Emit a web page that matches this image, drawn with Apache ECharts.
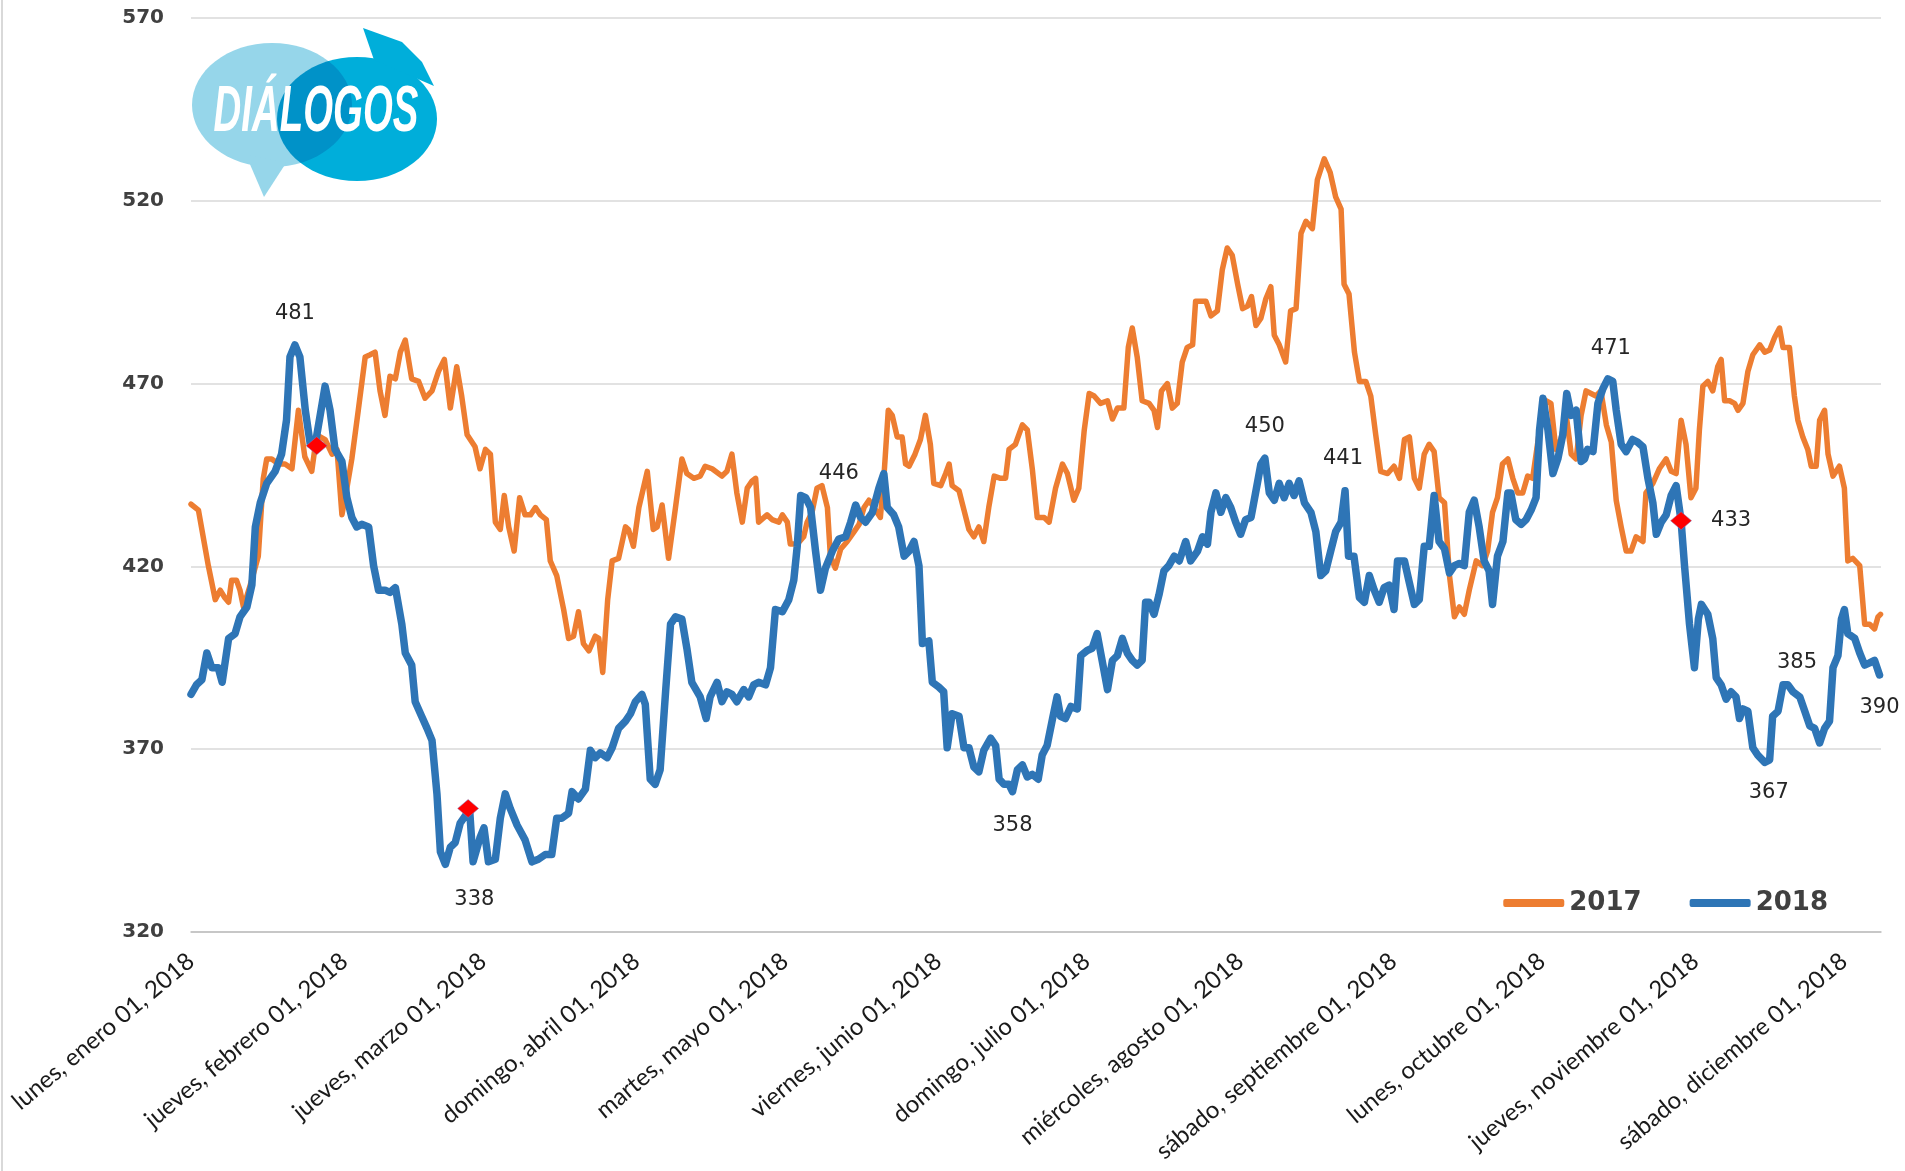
<!DOCTYPE html>
<html><head><meta charset="utf-8">
<script src="https://cdn.jsdelivr.net/npm/echarts@6/dist/echarts.min.js"></script>
<style>html,body{margin:0;padding:0;background:#fff}#c{width:1905px;height:1171px}</style>
</head><body><div id="c"></div>
<script>
// ---- tick labels (month starts, day index from 1 Jan 2018) ----
const tickDays = [0,31,59,90,120,151,181,212,243,273,304,334];
const tickLabels = ['lunes, enero 01, 2018','jueves, febrero 01, 2018','jueves, marzo 01, 2018','domingo, abril 01, 2018','martes, mayo 01, 2018','viernes, junio 01, 2018','domingo, julio 01, 2018','miércoles, agosto 01, 2018','sábado, septiembre 01, 2018','lunes, octubre 01, 2018','jueves, noviembre 01, 2018','sábado, diciembre 01, 2018'];
const yTicks = [320,370,420,470,520,570];

// ---- series 2017 (day index, value) ----
const days2017 = [0,1.5,3.5,4.9,5.9,6.8,7.6,8.2,9.2,9.9,10.6,12,13.6,14.6,15.3,16.3,17.7,19,20.4,21.7,23,24.4,25.4,27.1,28.5,29.5,30.5,31.5,32.5,33.8,35.2,36.2,37.2,38.2,39.2,40.2,41.3,42.3,43.3,44.6,46,47.3,48.7,50,51.2,52.4,53.7,54.7,55.8,57.4,58.4,59.5,60.5,61.5,62.5,63.3,64.2,65.3,66.4,67.5,68.6,69.6,70.6,71.8,72.6,73.9,75.3,76.3,77.3,78.3,79.3,80.4,81.7,82.4,83.2,84.2,85.1,86.4,87.8,88.4,89.4,90.5,92.2,93.4,94.2,95.2,96.5,97.9,99.2,100.2,101.6,102.9,103.9,105.3,107.3,108.3,109.3,110.3,111.4,112.4,113.4,114.1,114.7,116.4,117.4,118.8,119.5,120.5,121.1,122.5,123.8,124.5,125.5,126.5,127.5,128.6,129.2,130.2,131.3,132.6,134,135,136,137,138,139.3,140,140.9,141.7,142.7,143.7,144.4,145.1,146.3,147.4,148.4,149.4,150.1,151.5,152.5,153.2,153.8,155.2,156.2,157.2,158.2,159.2,160.2,161.2,162.3,163.6,164.6,165.3,166.6,168,169,170,171,172.4,173.4,174.7,176.1,177.1,178.4,179.4,180.5,181.5,182.5,183.8,185.2,186.2,187.2,188.5,189.4,190.2,191.2,192.2,193.6,194.6,195.3,196.1,197.3,198.3,199.3,200.3,201.3,202.4,203,204,205.1,206.1,207.4,208.4,209.4,210.4,211.5,212.5,213.5,214.3,215.2,216.2,217.2,218.2,218.9,219.9,221.2,222.2,223.3,224.3,225.3,226.6,227.6,229,230.2,231.3,232.4,233,234,235.1,236.1,237.4,238.4,239.4,240.4,241.8,243.1,244.2,245.2,246.2,247.2,248.2,249.2,250.2,251.2,252.2,253.3,254.3,255.3,256.3,257.3,258.3,259.7,261,262,263,264,265,266.1,267.1,268.1,269.1,270.1,271.1,272.5,273.8,274.8,275.8,276.8,277.9,278.9,279.9,280.9,281.9,282.9,283.9,284.9,286,287,288,289,290,291,292,293.4,294,295.4,296.7,298.1,299.1,300.1,301.1,302.1,303.1,304.1,304.8,305.5,306.5,307.5,308.5,309.2,309.9,310.9,311.9,312.6,313.6,314.6,315.6,317,318,319,320,321,321.7,323,324,324.7,325.7,326.7,327.4,328.4,329.1,330.1,330.8,331.8,333.1,334.1,334.8,335.8,337.2,338.2,339.2,340.2,340.9,341.4];
const vals2017 = [437,435.4,420.2,410.9,413.5,411.5,410.2,416.2,416.2,413.5,408.9,415,422.8,444,449.4,449.4,448,448,446.7,462.7,450,446,456,454.7,450.7,452,434.1,441.4,449.4,462.7,477.3,477.9,478.6,468,461.3,472,471.3,478.6,481.9,471.3,470.6,466,468,473.3,476.6,463.3,474.6,466.6,456,452.7,446.7,452,450.7,432.1,430.1,439.4,430.8,424.2,438.8,434.1,434.1,436.1,434.1,432.8,421.5,417.5,408.2,400.3,400.9,407.6,398.9,396.9,400.9,400.3,391,410.9,421.5,422.2,430.8,430.1,425.5,436.1,446,430.1,430.8,436.8,422.2,436.1,449.4,445.4,444.1,444.7,447.4,446.7,444.7,446,450.7,440.1,432.1,441.4,443.4,444.1,432.1,434.1,432.8,432.1,434.1,432.1,426.1,426.1,428.1,432.1,434.8,441.4,442.1,436.1,422.8,419.5,424.8,426.8,429.5,431.5,436.1,438.1,436.1,433.4,444.1,462.7,461.3,455.4,455.4,448,447.4,450.7,454.7,461.3,453.4,442.7,442.1,445.4,448,442.1,440.7,435.4,430.1,428.1,430.8,426.8,436.1,444.7,444.1,444.1,452,453.4,458.7,457.3,446.7,433.4,433.4,432.1,441.4,448,445.4,438.1,441.4,457.3,467.3,466.6,464.6,465.3,460.3,463.3,463.3,479.9,485.2,477.3,465.3,464.6,462.7,458,468,470,463.3,464.6,475.9,479.9,480.6,492.5,492.5,492.5,488.5,489.9,501.2,507.1,505.1,497.2,490.5,491.2,493.8,485.9,487.9,493.2,496.5,483.2,480.6,475.9,489.9,490.5,511.1,514.4,512.4,525.7,531.5,527.7,521.1,517.7,497.2,494.5,478.6,470.6,470.6,466.6,456,446,445.4,447.4,444.1,454.7,455.4,444.1,441.4,450.7,453.4,451.4,438.8,437.4,417.5,406.2,408.9,406.9,413.5,421.5,420.2,424.2,434.8,438.8,448,449.4,444.1,440.1,440.1,444.7,444.1,457.3,465.3,464.6,452,454.7,461.3,450.7,449.4,461.3,468,467.3,466.6,468,458.7,454,438,430.8,424.2,424.2,428.1,426.8,440.1,442.7,446.7,449.4,446,445.4,460,453.4,438.8,441.4,457.3,469.3,470.6,468,474.6,476.6,465.3,465.3,464.6,462.7,464.6,473.3,477.9,480.6,478.6,479.2,482.6,485.2,479.9,479.9,466.6,460,455.4,452,447.4,447.4,460,462.7,450.7,444.7,447.4,441.4,421.5,422.2,420.2,404.2,404.2,402.9,406.2,406.9];

// ---- series 2018 (day index, value) ----
const days2018 = [0,1.1,2.2,3.2,4.2,5.5,6.3,7.6,8.9,9.9,11.3,12.3,13,14,15.3,17,18.3,19.3,20,21,22,23.1,24.1,25.1,26.1,27.1,28.1,29.1,30.5,31.5,32.5,33.5,34.5,35.9,36.9,37.9,39.2,40.2,41.3,42.6,43.3,44.6,45.3,46.6,47.7,48.7,49.7,50.4,51.4,52.4,53.4,54.4,55.8,56.3,57,58.4,59.2,60.1,61.5,62.5,63.5,64.5,65.9,67.5,68.9,70.2,71.6,72.9,73.9,74.9,76.3,77,78.3,79.7,80.7,81.7,82.7,84.1,85.1,86.4,87.8,88.8,89.8,91.1,91.8,92.8,93.8,94.8,95.9,96.9,97.9,99.2,100.2,101.2,102.9,104.1,104.9,106.3,107.3,108.3,109.3,110.3,111.7,112.7,113.7,114.7,116.1,117.1,118.1,119.5,120.8,121.8,122.5,123.2,124.2,125.2,126.2,127.2,128.2,129.6,130.9,132.3,133.3,134.3,135.3,136.3,137.7,139,140,140.7,142,143,144.1,145.1,146.1,147.1,147.8,149.1,149.8,151.1,152.1,152.8,153.8,155.2,156.2,157.2,158.2,159.2,160.2,161.6,162.6,163.3,164.3,165.3,166,167,168,169,170,171.2,172,173,174.1,175,175.7,176.7,177.8,179.1,179.8,181.1,182.1,183.1,184.2,185.2,186.2,187.2,188.2,189.2,190.2,191.2,192.2,192.9,193.6,194.6,195.6,196.6,197.6,198.7,199.7,201,202,203.4,204.4,205.4,206.1,207.1,208.1,209.1,210.1,211.1,212.1,213.1,214.2,215.2,216.2,217,217.9,218.9,219.9,220.9,221.9,222.9,223.9,225,226.3,227.3,228.3,229.3,230.3,231.3,232.4,233.2,233.9,235,236.1,237.1,238.1,239.1,240.1,241.1,242.1,243.1,243.8,245.2,246.2,247.2,248.2,249.2,250.2,251.2,252.2,253.3,254.3,255.3,256.3,257.3,258.3,259.3,260.3,261.3,262.3,263,264,265.1,266.1,266.7,267.7,268.8,269.8,270.8,271.8,272.5,273.2,274.2,275.2,276.2,277.2,278,278.9,279.9,280.9,281.6,282.2,283.3,284.3,285.3,286.3,287.3,288,289,290,291.3,292.3,293.4,294.4,295.4,296.1,297.1,298.1,299.1,300.1,301.1,301.8,302.8,303.8,304.6,305.2,306.5,307.5,308.2,309.2,310.2,311.2,312.2,312.9,313.6,314.6,315.6,316.6,318,319,319.6,320.7,321.7,322.7,323.7,325.1,326.1,327.1,328.1,329.1,330.1,331.1,331.8,332.8,333.5,334.1,334.8,336.2,337.2,338.2,339.2,340.2,341.2];
const vals2018 = [385,387.6,389,396.3,392.3,392.3,388.3,400.3,401.6,406.2,408.9,414.9,430.8,437.4,442.7,446,450.7,460,477.3,480.6,477.3,462.7,453.4,453.4,461.3,469.3,462.7,452,448.7,438.8,433.4,430.8,431.5,430.8,420.2,413.5,413.5,412.9,414.2,404.2,396.3,393,383,379,375.7,372.4,357.8,341.9,338.5,343.2,344.5,349.8,352.5,353.5,339.2,345.8,348.5,339.2,339.9,351.1,357.8,353.8,349.2,345.2,339.2,339.9,341.2,341.2,351.1,351.1,352.5,358.4,356.4,359.1,369.7,367.7,369,367.7,370.4,375.7,377.7,379.7,383,385,382.3,361.8,360.4,364.4,385.7,404.2,406.2,405.6,397.6,388.3,384.3,378.4,384.3,388.3,383,385.7,385,383,386.3,384.3,387.6,388.3,387.6,392.3,408.2,407.6,410.9,416.2,425.5,439.4,438.8,436.1,424.2,413.5,419.5,424.2,427.5,428.1,432.1,436.8,433.4,432.1,434.8,441.4,445.4,436.1,434.1,430.8,422.8,424.2,426.8,420.2,398.9,399.6,388.3,387,385.7,370.4,379.7,379,370.4,370.4,365.1,363.8,369.7,373,371,361.8,360.4,360.4,358.4,364.4,365.7,362.4,363.1,361.8,368.4,371,378.4,384.3,379,378.4,381.7,381,395.6,397,397.6,401.6,393.6,386.3,394.3,395.6,400.3,396.3,394.3,393,394.3,410.2,410.2,406.9,412.2,418.8,420.2,422.8,421.5,426.8,421.5,424.2,428.1,426.1,434.8,440.1,434.8,438.8,436.1,432.1,428.8,432.8,433.4,440.7,448,449.6,440.1,438.1,442.7,438.8,442.7,439.4,443.4,437.4,434.8,429.5,417.5,418.8,424.2,429.5,432.1,440.7,422.8,422.8,411.5,410.2,417.5,413.5,410.2,414.2,414.9,408.2,421.5,421.5,415.5,409.6,410.9,425.5,425.5,439.4,426.8,424.8,418.2,420.2,420.8,420.2,434.8,438.1,430.8,421.5,418.8,409.6,422.8,426.8,440.1,440.1,432.8,431.5,432.8,435.4,438.8,457.3,466,457.3,445.4,449.4,456,467.3,461.3,462.7,448.7,449.4,452,451.4,464.6,468.6,471.3,470.6,462.7,453.4,451.4,454.7,454,452.7,444.1,437.4,428.8,432.1,434.1,439.4,442.1,432.5,420.2,404.2,392.3,405.6,409.6,406.9,400.3,389.6,387.6,383.7,385.7,384.3,378.4,381,380.4,370.4,368.4,366.4,367.1,379,380.4,387.6,387.6,385.7,384.3,380.4,376.4,375.7,371.7,375.7,377.7,392.3,395.6,405.6,408.2,401.6,400.3,396.3,393,393.6,394.3,390.3];

// ---- highlighted points (red diamonds) ----
const diamondDays = [25.4, 56, 301.1];
const diamondVals = [453, 353.8, 432.5];

// ---- data labels ----
const labelDays  = [21, 51.4, 140, 166, 217, 233.2, 286.3, 301.1, 318, 321.7, 341.2];
const labelVals  = [480.6, 338.5, 445.4, 358.4, 449.6, 440.7, 471.3, 432.5, 366.4, 387.6, 390.3];
const labelTexts = ['481','338','446','358','450','441','471','433','367','385','390'];
// label placement offsets (style, px)
const labelOffsets = [[0,-31],[29,35],[-45,0],[0,34],[0,-32],[-2,-32],[3,-30],[50,0],[4,30],[14,-22],[0,33]];

const chart = echarts.init(document.getElementById('c'));
const option = {
  backgroundColor: '#ffffff',
  animation: false,
  grid: {left: 191, right: 24, top: 18, bottom: 239, containLabel: false, outerBoundsMode: 'none'},
  legend: {
    data: ['2017','2018'], right: 72, top: 885, itemWidth: 61, itemHeight: 8, itemGap: 48, icon: 'roundRect',
    textStyle: {fontFamily: 'DejaVu Sans', fontWeight: 'bold', fontSize: 26, color: '#404040'}
  },
  xAxis: {
    type: 'value', min: 0, max: 341.5,
    axisLine: {show: true, lineStyle: {color: '#bfbfbf', width: 1.5}},
    axisTick: {show: false},
    splitLine: {show: false},
    axisLabel: {
      customValues: tickDays, rotate: 40, margin: 26, hideOverlap: false,
      fontFamily: 'Lato', fontSize: 24, color: '#1a1a1a',
      formatter: function(v){ const i = tickDays.indexOf(Math.round(v)); return i >= 0 ? tickLabels[i] : ''; }
    }
  },
  yAxis: {
    type: 'value', min: yTicks[0], max: yTicks[yTicks.length-1], interval: 50,
    axisLine: {show: false}, axisTick: {show: false},
    splitLine: {show: true, lineStyle: {color: '#d9d9d9', width: 1.5}},
    axisLabel: {margin: 27, fontFamily: 'DejaVu Sans', fontWeight: 'bold', fontSize: 20, color: '#404040'}
  },
  graphic: [
    {type: 'line', shape: {x1: 2, y1: 0, x2: 2, y2: 1171}, style: {stroke: '#d9d9d9', lineWidth: 2}, silent: true},
    {type: 'ellipse', shape: {cx: 272, cy: 105, rx: 80, ry: 62}, style: {fill: '#96D6EA'}, z: 100},
    {type: 'polygon', shape: {points: [[246,155],[264,197],[286,163]]}, style: {fill: '#96D6EA'}, z: 100},
    {type: 'ellipse', shape: {cx: 357, cy: 119, rx: 80, ry: 62}, style: {fill: '#00AEDA', blend: 'multiply'}, z: 101},
    {type: 'polygon', shape: {points: [[363,28],[374,60],[434,86],[422,62],[402,42]]}, style: {fill: '#00AEDA'}, z: 101},
    {type: 'text', x: 316, y: 113, scaleX: 0.6, z: 102,
      style: {text: 'DIÁLOGOS', fill: '#ffffff', font: 'italic bold 64px "Liberation Sans"', align: 'center', verticalAlign: 'middle'}}
  ],
  series: [
    {
      name: '2017', type: 'line', symbol: 'none', showSymbol: false, z: 2,
      data: days2017.map((d,i) => [d, vals2017[i]]),
      itemStyle: {color: '#ED7D31'},
      lineStyle: {color: '#ED7D31', width: 5.5, cap: 'round', join: 'round'}
    },
    {
      name: '2018', type: 'line', symbol: 'none', showSymbol: false, z: 3,
      data: days2018.map((d,i) => [d, vals2018[i]]),
      itemStyle: {color: '#2E75B6'},
      lineStyle: {color: '#2E75B6', width: 7.5, cap: 'round', join: 'round'},
      markPoint: {
        symbol: 'circle', symbolSize: 0, silent: true,
        label: {show: true, position: 'inside', formatter: '{c}', fontFamily: 'DejaVu Sans', fontSize: 21, color: '#262626'},
        data: labelDays.map((d,i) => ({coord: [d, labelVals[i]], value: labelTexts[i], label: {offset: labelOffsets[i]}}))
      }
    },
    {
      name: 'marcas', type: 'scatter', z: 5, symbol: 'diamond', symbolSize: [21, 18],
      data: diamondDays.map((d,i) => [d, diamondVals[i]]),
      itemStyle: {color: '#FF0000', borderColor: '#8080c0', borderWidth: 0.5, opacity: 1}
    }
  ]
};
chart.setOption(option);
</script>
</body></html>
